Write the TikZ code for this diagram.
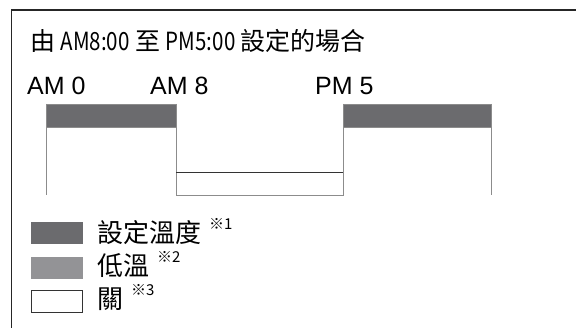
\documentclass[tikz,border=0pt]{standalone}
\usepackage{fontspec}
\setmainfont{Liberation Sans}
\newfontfamily\cjk{Noto Sans CJK TC}
\usetikzlibrary{positioning,calc}
\definecolor{setdark}{HTML}{6B6B6E}
\definecolor{lowgrey}{HTML}{939396}
\definecolor{rule}{HTML}{8C8C8C}
\newcommand\notemark[1]{\raisebox{0.5em}{\fontsize{15}{15}\selectfont{\cjk ※}#1}}
\newcommand\halfw[1]{\scalebox{0.82}[1]{#1}}
\tikzset{
  frame/.style  = {draw=black!85, line width=1.4pt},
  setbar/.style = {rectangle, fill=setdark, draw=rule, line width=0.6pt,
                   inner sep=0pt, outer sep=0pt, anchor=north west},
  offbox/.style = {rectangle, fill=white, draw=rule, line width=0.6pt,
                   inner sep=0pt, outer sep=0pt, anchor=north west},
  tick/.style   = {draw=rule, line width=0.8pt},
  swatch/.style = {rectangle, inner sep=0pt, outer sep=0pt, anchor=north west,
                   minimum width=52pt, minimum height=22pt},
  lab/.style    = {font=\fontsize{25}{30}\selectfont, inner sep=0pt, anchor=base west},
  note/.style   = {font=\fontsize{26}{30}\selectfont\cjk, inner sep=0pt, anchor=base west},
}
\begin{document}
\begin{tikzpicture}[x=1pt, y=-1pt]
  \useasboundingbox (0,0) rectangle (576,328);
  \fill[white] (0,0) rectangle (576,328);

  % open frame
  \draw[frame] (576,10) -- (11.5,10) -- (11.5,328);

  % title
  \node[font=\fontsize{25}{30}\selectfont\cjk, inner sep=0pt, anchor=base west]
    (title) at (30,51) {由 \halfw{AM8:00} 至 \halfw{PM5:00} 設定的場合};

  % time labels
  \node[lab] (am0) at (27,95)  {AM 0};
  \node[lab] (am8) at (150,95) {AM 8};
  \node[lab] (pm5) at (315,95) {PM 5};

  % schedule bars
  \node[setbar, minimum width=130pt, minimum height=23pt] (bar0) at (46,104) {};
  \node[setbar, minimum width=148pt, minimum height=23pt] (bar1) at (343,104) {};
  \node[offbox, minimum width=167pt, minimum height=23pt] (off)  at (176,172) {};
  \draw[draw=black!80, line width=0.9pt] (off.north west) -- (off.north east);

  % verticals down to the base line
  \draw[tick] (bar0.north west) -- (bar0.north west |- off.south);
  \draw[tick] (bar0.north east) -- (off.north west);
  \draw[tick] (bar1.north west) -- (off.north east);
  \draw[tick] (bar1.north east) -- (bar1.north east |- off.south);

  % legend
  \node[swatch, fill=setdark] (keyset) at (31,222) {};
  \node[swatch, fill=lowgrey] (keylow) at (31,257) {};
  \node[swatch, fill=white, draw=black!80, line width=1pt,
        minimum width=51pt, minimum height=22pt] (keyoff) at (31.5,290.5) {};
  \node[note] (txtset) at (97,243) {設定溫度\hspace{8pt}\notemark{1}};
  \node[note] (txtlow) at (97,276) {低溫\hspace{8pt}\notemark{2}};
  \node[note] (txtoff) at (97,309) {關\hspace{8pt}\notemark{3}};

\end{tikzpicture}
\end{document}
